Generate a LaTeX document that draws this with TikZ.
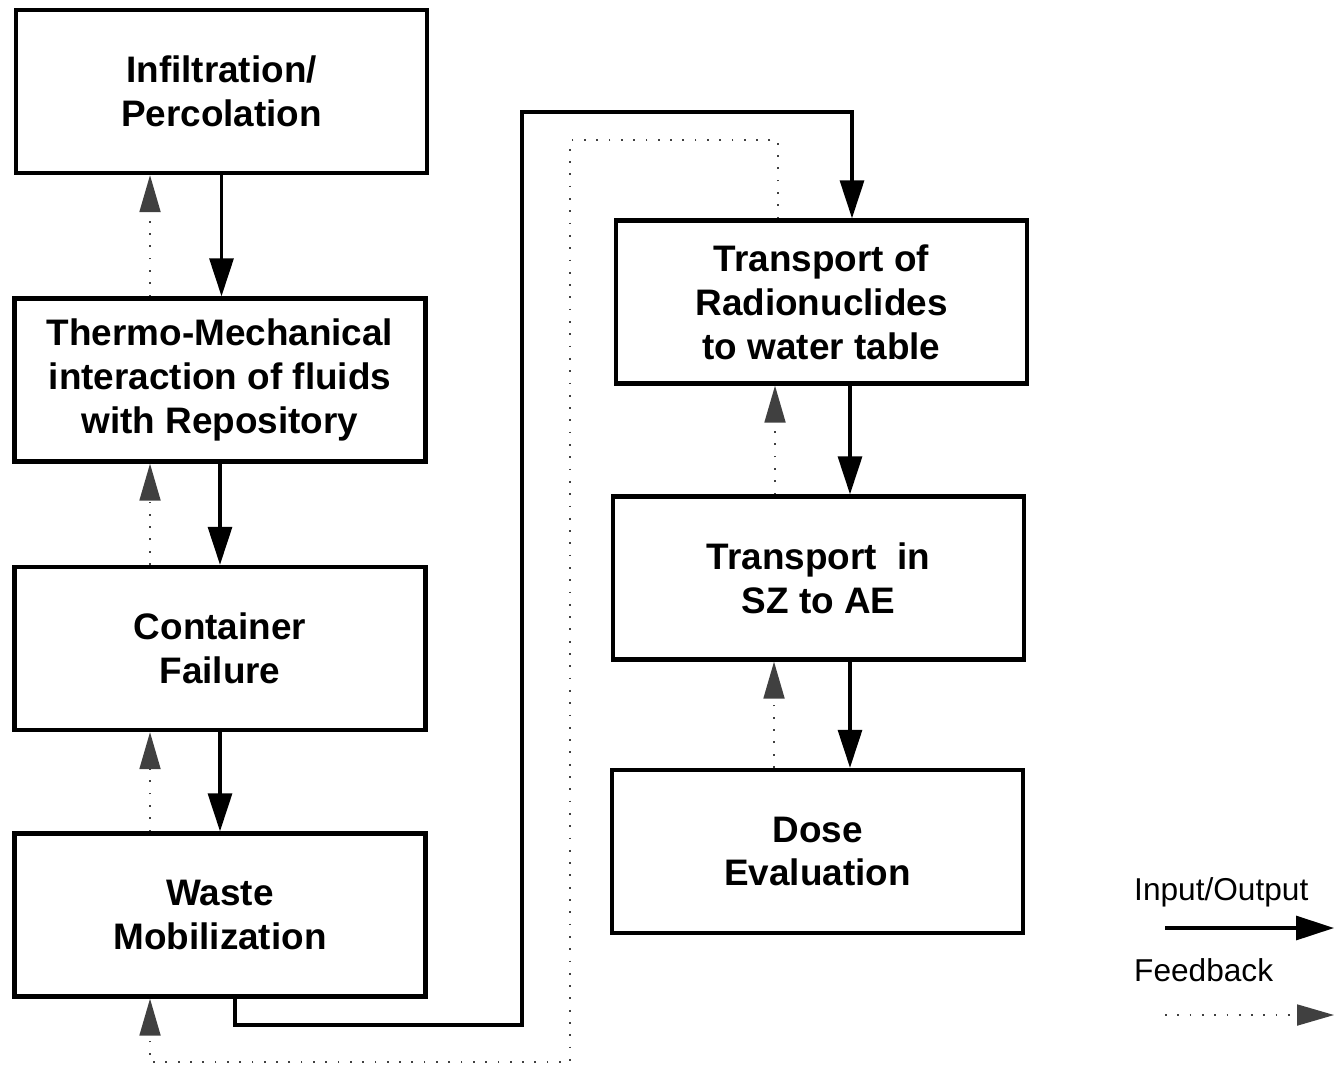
\documentclass[tikz,border=0pt]{standalone}
\usepackage{fontspec}
\setmainfont{Liberation Sans}
\usetikzlibrary{arrows.meta}

\tikzset{
    stagebox/.style={draw, line width=2.5pt, minimum width=8.22cm, minimum height=3.26cm,
        align=center, font=\bfseries\fontsize{21}{25}\selectfont},
    flow/.style={line width=1.8pt, -{Triangle[length=0.76cm, width=0.48cm]}},
    feedback/.style={line width=1.1pt, black!75, dash pattern=on 1pt off 6pt,
        -{Triangle[length=0.74cm, width=0.42cm, fill=black!75]}},
    legendtext/.style={anchor=west, font=\fontsize{18}{21}\selectfont}
}

\begin{document}
\begin{tikzpicture}[x=0.02cm, y=-0.02cm]
    \useasboundingbox (0,0) rectangle (1334,1065);

    % Define the boxes of the left column
    \node[stagebox] (infil) at (221.5,91.5) {Infiltration/\\Percolation};
    \node[stagebox] (thermo) at (220,380) {Thermo-Mechanical\\interaction of fluids\\with Repository};
    \node[stagebox] (container) at (220,648.5) {Container\\Failure};
    \node[stagebox] (waste) at (220,915) {Waste\\Mobilization};

    % Define the boxes of the right column
    \node[stagebox] (transport) at (821.5,302) {Transport of\\Radionuclides\\to water table};
    \node[stagebox] (sz) at (818.5,578) {Transport~ in\\SZ to AE};
    \node[stagebox] (dose) at (817.5,851.5) {Dose\\Evaluation};

    % Corners of the long connectors
    \coordinate (flowA) at (235,1025);
    \coordinate (flowB) at (522,112);
    \coordinate (fbA) at (778,140);
    \coordinate (fbB) at (570,1062);

    % Draw the input/output arrows
    \draw[flow] (infil.south) -- (infil.south |- thermo.north);
    \draw[flow] (thermo.south) -- (thermo.south |- container.north);
    \draw[flow] (container.south) -- (container.south |- waste.north);
    \draw[flow] ([xshift=0.3cm]waste.south) |- (flowA) -| (flowB) -| ([xshift=0.61cm]transport.north);
    \draw[flow] ([xshift=0.57cm]transport.south) -- ([xshift=0.57cm]transport.south |- sz.north);
    \draw[flow] ([xshift=0.63cm]sz.south) -- ([xshift=0.63cm]sz.south |- dose.north);

    % Draw the feedback arrows
    \draw[feedback] ([xshift=-1.4cm]thermo.north) -- ([xshift=-1.4cm]thermo.north |- infil.south);
    \draw[feedback] ([xshift=-1.4cm]container.north) -- ([xshift=-1.4cm]container.north |- thermo.south);
    \draw[feedback] ([xshift=-1.4cm]waste.north) -- ([xshift=-1.4cm]waste.north |- container.south);
    \draw[feedback] ([xshift=-0.87cm]transport.north) |- (fbA) -| (fbB) -| ([xshift=-1.4cm]waste.south);
    \draw[feedback] ([xshift=-0.87cm]sz.north) -- ([xshift=-0.87cm]sz.north |- transport.south);
    \draw[feedback] ([xshift=-0.87cm]dose.north) -- ([xshift=-0.87cm]dose.north |- sz.south);

    % Place the legend
    \node[legendtext] (keyflow) at (1128,892) {Input/Output};
    \node[legendtext] (keyfeed) at (1128,970) {Feedback};
    \coordinate (keyflowA) at (1165,928);
    \coordinate (keyflowB) at (1334,928);
    \coordinate (keyfeedA) at (1165,1015);
    \coordinate (keyfeedB) at (1334,1015);
    \draw[flow] (keyflowA) -- (keyflowB);
    \draw[feedback] (keyfeedA) -- (keyfeedB);

\end{tikzpicture}
\end{document}
